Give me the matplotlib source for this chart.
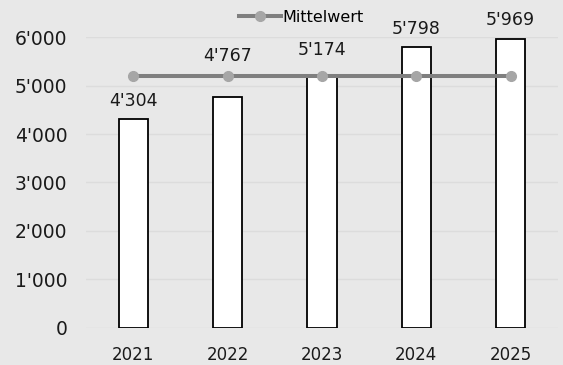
import numpy as np
import matplotlib.pyplot as plt
from matplotlib.ticker import FuncFormatter

# data
years = ["2021", "2022", "2023", "2024", "2025"]
values = [4304, 4767, 5174, 5798, 5969]
mean_label = "Mittelwert"

BG = "#e8e8e8"
GRID = "#dcdcdc"
LINE_COLOR = "#7f7f7f"
MARKER_COLOR = "#a6a6a6"


def swiss(v, pos=None):
    return f"{int(round(v)):,}".replace(",", "'")


fig = plt.figure(figsize=(5.63, 3.65), dpi=100)
fig.patch.set_facecolor(BG)
ax = fig.add_axes([0.1528, 0.1014, 0.8382, 0.7972])
ax.set_facecolor(BG)

x = np.arange(len(years))
ax.bar(x, values, width=0.31, color="white", edgecolor="black", linewidth=1.3, zorder=2)

mean = np.mean(values)
ax.plot(x, [mean] * len(x), color=LINE_COLOR, lw=2.9, marker="o", markersize=7,
        markerfacecolor=MARKER_COLOR, markeredgecolor=MARKER_COLOR, zorder=3,
        label=mean_label)

# value labels; the ones that would collide with the mean line sit above it
for xi, v in zip(x, values):
    if 0 < mean - v < 800:
        anchor, off = mean, 8 + (v - 4767) / 100
    else:
        anchor, off = v, 6.5
    ax.annotate(swiss(v), (xi, anchor), xytext=(0, off), textcoords="offset points",
                ha="center", va="bottom", fontsize=12.5, color="#1a1a1a")

ax.set_xlim(-0.5, 4.5)
ax.set_ylim(0, 6000)
ax.set_yticks(np.arange(0, 6001, 1000))
ax.yaxis.set_major_formatter(FuncFormatter(swiss))
ax.set_xticks(x)
ax.set_xticklabels(years)
ax.tick_params(axis="both", length=0, labelsize=12, colors="#1a1a1a")
ax.tick_params(axis="y", labelsize=13.5, pad=13.5)
ax.tick_params(axis="x", pad=13)
ax.grid(axis="y", color=GRID, lw=1, zorder=0)
ax.set_axisbelow(True)
for s in ax.spines.values():
    s.set_visible(False)

leg = fig.legend(loc="center", bbox_to_anchor=(0.535, 0.953), frameon=False,
                 fontsize=11.5, handlelength=2.6, handletextpad=0.1)

fig.savefig("out.png", dpi=100, facecolor=BG)
